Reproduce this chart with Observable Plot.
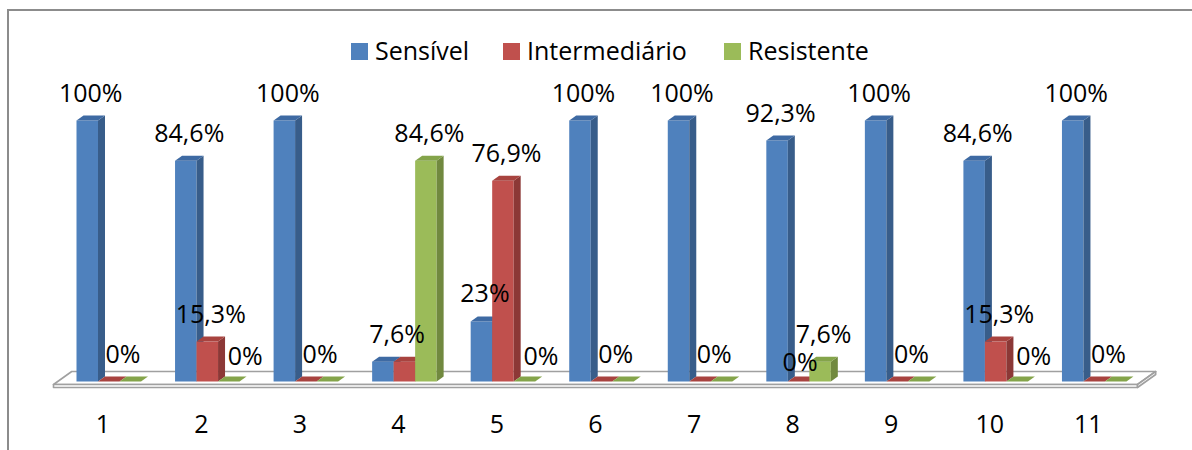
<!DOCTYPE html>
<html>
<head>
<meta charset="utf-8">
<script src="https://cdn.jsdelivr.net/npm/d3@7"></script>
<script src="https://cdn.jsdelivr.net/npm/@observablehq/plot@0.6"></script>
<style>
  html, body { margin: 0; padding: 0; background: #fff; }
  body { width: 1192px; height: 450px; overflow: hidden; position: relative; font-family: "Open Sans", sans-serif; }
  #frame { position: absolute; left: 7px; top: 9px; width: 1200px; height: 460px; z-index: 2; pointer-events: none;
           border-top: 2px solid #8c8c8c; border-left: 2px solid #8c8c8c; box-sizing: border-box; }
  #legend { position: relative; height: 75px; }
  .item { position: absolute; top: 30px; display: flex; align-items: center; font-size: 25px; color: #000; line-height: 40px; }
  .sw { width: 17px; height: 17px; margin-right: 7px; margin-top: 3px; }
  #chart { position: relative; }
</style>
</head>
<body>
<div id="frame"></div>
<div id="legend"></div>
<div id="chart"></div>
<script>
// ---- data ----
const categories = ["1","2","3","4","5","6","7","8","9","10","11"];
const seriesNames = ["Sensível","Intermediário","Resistente"];
const sensivel      = [100, 84.6, 100, 7.6, 23,   100, 100, 92.3, 100, 84.6, 100];
const intermediario = [0,   15.3, 0,   7.6, 76.9, 0,   0,   0,    0,   15.3, 0];
const resistente    = [0,   0,    0,   84.6, 0,   0,   0,   7.6,  0,   0,    0];

// ---- styles ----
const frontColors = ["#4F81BD", "#C0504D", "#9BBB59"];
const sideColors  = ["#385D8A", "#8C3836", "#71893F"];
const topColors   = ["#3E6AA3", "#A8433F", "#84A44A"];

const W = 1192, H = 375, ML = 53, MR = 55, MT = 45, MB = 69;
const kx = (W - ML - MR) / categories.length; // px per category unit
const ky = (H - MT - MB) / 100;               // px per percent
const px = p => p / kx, py = p => p / ky;

const values = [sensivel, intermediario, resistente];
const OFF = px(23), BW = px(21.5), DDX = px(7), DDY = py(5);

// ---- legend ----
const legend = d3.select("#legend");
const legendLeft = [351, 503, 724];
seriesNames.forEach((s, j) => {
  const it = legend.append("div").attr("class", "item").style("left", legendLeft[j] + "px");
  it.append("div").attr("class", "sw").style("background", frontColors[j]);
  it.append("span").text(s);
});

// ---- 3D bar polygons ----
const polys = [];
let id = 0;
categories.forEach((c, i) => {
  values.forEach((arr, j) => {
    const v = arr[i];
    const x1 = i + OFF + j * BW, x2 = x1 + BW;
    if (v > 0) {
      polys.push(...[[x1,0],[x2,0],[x2,v],[x1,v]].map(([x,y]) => ({x, y, id, c: frontColors[j]}))); id++;
      polys.push(...[[x2,0],[x2+DDX,DDY],[x2+DDX,v+DDY],[x2,v]].map(([x,y]) => ({x, y, id, c: sideColors[j]}))); id++;
    }
    polys.push(...[[x1,v],[x2,v],[x2+DDX,v+DDY],[x1+DDX,v+DDY]].map(([x,y]) => ({x, y, id, c: topColors[j]}))); id++;
  });
});

// ---- labels: adjacent equal values share one label ----
const fmt = v => d3.format(".1~f")(v).replace(".", ",") + "%";
const labels = [];
categories.forEach((c, i) => {
  let j = 0;
  while (j < values.length) {
    let k = j;
    while (k + 1 < values.length && values[k + 1][i] === values[j][i]) k++;
    const x1 = i + OFF + j * BW, x2 = i + OFF + (k + 1) * BW;
    const v = values[j][i];
    const kind = (v === 0 && j === k) ? (j === values.length - 1 ? "zeroLast" : "zeroMid") : "normal";
    labels.push({x: (x1 + x2) / 2 + DDX / 2, y: v, text: fmt(v), kind});
    j = k + 1;
  }
});

// ---- floor slab ----
const n = categories.length;
const sh = px(13 * 1.4);
const floor = [
  {id: 0, pts: [[0, py(-3)], [n, py(-3)], [n + sh, py(10)], [sh, py(10)]]},
  {id: 1, pts: [[0, py(-3)], [n, py(-3)], [n, py(-6)], [0, py(-6)]]},
  {id: 2, pts: [[n, py(-3)], [n + sh, py(10)], [n + sh, py(7)], [n, py(-6)]]}
].flatMap(f => f.pts.map(([x, y]) => ({x, y, id: f.id})));

const textOpts = {x: "x", y: "y", text: "text", lineAnchor: "bottom", fontSize: 25, fill: "#000"};

const chart = Plot.plot({
  width: W, height: H,
  marginLeft: ML, marginRight: MR, marginTop: MT, marginBottom: MB,
  x: {type: "linear", domain: [0, n], axis: null},
  y: {domain: [0, 100], axis: null},
  color: {type: "identity"},
  style: {fontFamily: "Open Sans, sans-serif", background: "white", overflow: "visible"},
  marks: [
    Plot.line(floor, {x: "x", y: "y", z: "id", fill: "white", stroke: "#a0a0a0", strokeWidth: 1.6, curve: "linear-closed"}),
    Plot.line(polys, {x: "x", y: "y", z: "id", fill: "c", stroke: "none", curve: "linear-closed"}),
    Plot.text(labels.filter(d => d.kind === "normal"), {...textOpts, dy: -19}),
    Plot.text(labels.filter(d => d.kind === "zeroLast"), {...textOpts, dx: 13, dy: -17}),
    Plot.text(labels.filter(d => d.kind === "zeroMid"), {...textOpts, dx: -2, dy: -11}),
    Plot.text(categories, {x: (d, i) => i + 0.5, y: 0, text: d => d, dy: 43, lineAnchor: "middle", fontSize: 25, fill: "#000"})
  ]
});
document.getElementById("chart").appendChild(chart);
</script>
</body>
</html>
